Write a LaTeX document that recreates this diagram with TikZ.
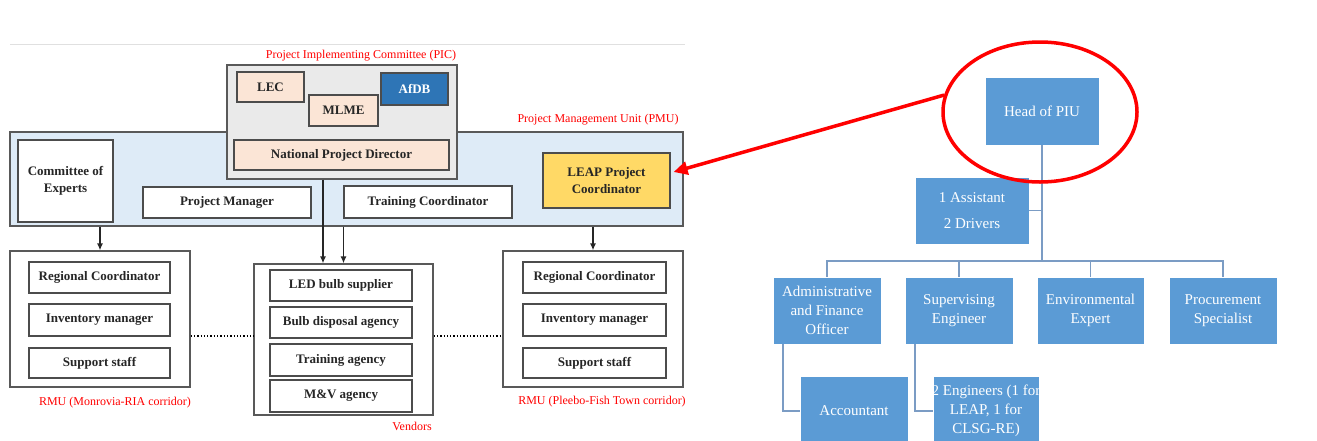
\documentclass[tikz,border=0pt]{standalone}
\usepackage{fontspec}
\setmainfont{Liberation Serif}
\usetikzlibrary{arrows.meta,shapes.geometric}
\definecolor{peche}{HTML}{FBE5D6}
\definecolor{bleuafdb}{HTML}{2E75B6}
\definecolor{grisfond}{HTML}{EAEAEA}
\definecolor{bleuclair}{HTML}{DEEBF7}
\definecolor{jaune}{HTML}{FFD966}
\definecolor{bleuposte}{HTML}{5B9BD5}
\definecolor{bleutrait}{HTML}{7B9CC4}
\begin{document}
\begin{tikzpicture}[x=1pt, y=-1pt]
	\tikzset{boite/.style={draw=black!70, line width=1.2pt, fill=white, inner sep=0pt, align=center, text=black!85, font=\fontsize{13}{16.5}\selectfont\bfseries},
		cadre/.style={draw=black!65, line width=1.2pt, inner sep=0pt},
		titre/.style={text=red, inner sep=0pt, font=\fontsize{12}{13}\selectfont},
		fleche/.style={-{Latex[length=7pt,width=6pt]}, line width=1.4pt, black!85},
		poste/.style={draw=white, line width=0.6pt, fill=bleuposte, text=white, inner sep=0pt, align=center, font=\fontsize{15}{19}\selectfont},
		lien/.style={draw=bleutrait, line width=1.6pt}};

	\clip (0,0) rectangle (1317,440);
	\fill[white] (0,0) rectangle (1317,440);

	% left chart
	\draw[black!12, line width=1pt] (10,44) -- (685,44);

	\node[cadre, fill=bleuclair, minimum width=673pt, minimum height=94pt] (pmu) at (346.5,179) {};
	\node[cadre, fill=grisfond, minimum width=230pt, minimum height=114pt] (pic) at (342,122) {};

	\node[boite, fill=peche, minimum width=67pt, minimum height=30pt] (lec) at (270.5,87) {LEC};
	\node[boite, fill=peche, minimum width=69pt, minimum height=31pt] (mlme) at (343.5,110.5) {MLME};
	\node[boite, fill=bleuafdb, text=white, minimum width=67pt, minimum height=32pt] (afdb) at (414.5,89) {AfDB};
	\node[boite, fill=peche, minimum width=215pt, minimum height=30pt] (npd) at (341.5,155) {National Project Director};

	\node[boite, minimum width=95pt, minimum height=82pt] (coe) at (65.5,181) {Committee of\\Experts};
	\node[boite, minimum width=168pt, minimum height=31pt] (pm) at (227,202.5) {Project Manager};
	\node[boite, minimum width=168pt, minimum height=32pt] (tc) at (428,202) {Training Coordinator};
	\node[boite, fill=jaune, minimum width=127pt, minimum height=55pt] (leap) at (606.5,180.5) {LEAP Project\\Coordinator};

	\node[cadre, minimum width=180pt, minimum height=136pt] (rmuL) at (100,319) {};
	\node[boite, minimum width=141pt, minimum height=31pt] (rc1) at (99.5,277.5) {Regional Coordinator};
	\node[boite, minimum width=141pt, minimum height=32pt] (im1) at (99.5,320) {Inventory manager};
	\node[boite, minimum width=141pt, minimum height=30pt] (ss1) at (99.5,363) {Support staff};

	\node[cadre, minimum width=179pt, minimum height=151pt] (vend) at (343.5,339.5) {};
	\node[boite, minimum width=142pt, minimum height=31pt] (led) at (341,285.5) {LED bulb supplier};
	\node[boite, minimum width=142pt, minimum height=31pt] (bda) at (341,322.5) {Bulb disposal agency};
	\node[boite, minimum width=142pt, minimum height=32pt] (ta) at (341,360) {Training agency};
	\node[boite, minimum width=142pt, minimum height=32pt] (mv) at (341,396) {M\&V agency};

	\node[cadre, minimum width=180pt, minimum height=136pt] (rmuR) at (593,319) {};
	\node[boite, minimum width=143pt, minimum height=31pt] (rc2) at (594.5,277.5) {Regional Coordinator};
	\node[boite, minimum width=143pt, minimum height=32pt] (im2) at (594.5,320) {Inventory manager};
	\node[boite, minimum width=143pt, minimum height=30pt] (ss2) at (594.5,363) {Support staff};

	\node[titre] (lpic) at (361,56) {Project Implementing Committee (PIC)};
	\node[titre] (lpmu) at (598,120) {Project Management Unit (PMU)};
	\node[titre] (lrmu1) at (115,403) {RMU (Monrovia-RIA corridor)};
	\node[titre] (lvend) at (412,426) {Vendors};
	\node[titre] (lrmu2) at (602,402) {RMU (Pleebo-Fish Town corridor)};

	\draw[fleche] (rmuL.north |- pmu.south) -- (rmuL.north);
	\draw[fleche] ([xshift=-19pt]pic.south) -- ([xshift=-19pt]pic.south |- vend.north);
	\draw[fleche] (vend.north |- pmu.south) -- (vend.north);
	\draw[fleche] (rmuR.north |- pmu.south) -- (rmuR.north);

	\draw[dotted, line width=1.3pt] ([yshift=-17pt]rmuL.east) -- ([yshift=-17pt]rmuL.east -| vend.west);
	\draw[dotted, line width=1.3pt] ([yshift=-17pt]vend.east |- rmuR.west) -- ([yshift=-17pt]rmuR.west);

	% right chart
	\node[poste, minimum width=114pt, minimum height=68pt] (head) at (1042,111) {Head of PIU};
	\node[poste, minimum width=114pt, minimum height=67pt] (asst) at (972,210.5) {1 Assistant\\[7pt]2 Drivers};
	\node[poste, minimum width=108pt, minimum height=67pt] (admin) at (827,310.5) {Administrative\\and Finance\\Officer};
	\node[poste, minimum width=108pt, minimum height=67pt] (sup) at (959,310.5) {Supervising\\Engineer};
	\node[poste, minimum width=107pt, minimum height=67pt] (env) at (1090.5,310.5) {Environmental\\Expert};
	\node[poste, minimum width=108pt, minimum height=67pt] (proc) at (1223,310.5) {Procurement\\Specialist};
	\node[poste, minimum width=108pt, minimum height=70pt] (acct) at (854,411) {Accountant};
	\node[poste, minimum width=106pt, minimum height=70pt] (eng) at (986,411) {\makebox[106pt][c]{2 Engineers (1 for}\\LEAP, 1 for\\CLSG-RE)};

	\coordinate (bus) at (1042,261);
	\draw[lien] (head.south) -- (bus);
	\draw[lien] (asst.east) -- (asst.east -| head.south);
	\draw[lien] (admin.north) -- (admin.north |- bus) -- (proc.north |- bus) -- (proc.north);
	\draw[lien] (sup.north) -- (sup.north |- bus);
	\draw[lien] (env.north) -- (env.north |- bus);
	\draw[lien] ([xshift=-44pt]admin.south) |- (acct.west);
	\draw[lien] ([xshift=-44pt]sup.south) |- (eng.west);

	\node[ellipse, draw=red, line width=3.5pt, inner sep=0pt, minimum width=194pt, minimum height=140pt] (cercle) at (1040,112) {};
	\draw[red, line width=3.5pt, -{Triangle[length=14pt,width=13pt]}] (cercle.170) -- ([xshift=3pt,yshift=8.5pt]leap.east);

\end{tikzpicture}
\end{document}
